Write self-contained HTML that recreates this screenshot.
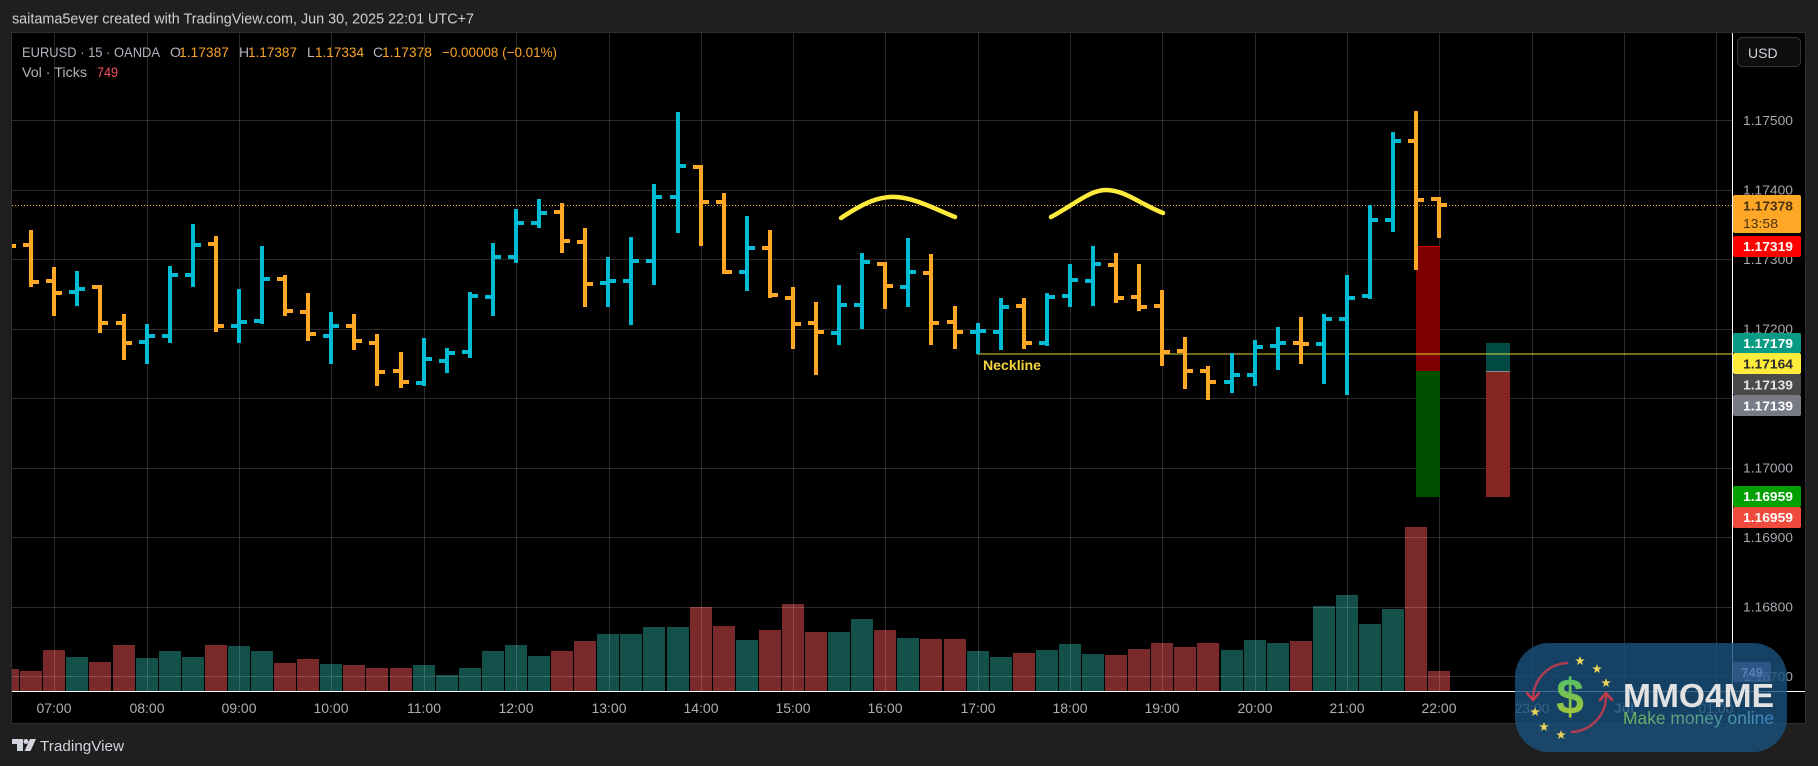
<!DOCTYPE html>
<html><head><meta charset="utf-8"><style>
html,body{margin:0;padding:0;background:#1f1f1f;width:1818px;height:766px;overflow:hidden}
svg{display:block}
text{font-family:"Liberation Sans","DejaVu Sans",sans-serif}
</style></head><body>
<svg width="1818" height="766" viewBox="0 0 1818 766" xmlns="http://www.w3.org/2000/svg">
<defs>
<clipPath id="cc"><rect x="12" y="33" width="1720" height="658"/></clipPath>
<linearGradient id="gd" x1="0" y1="0" x2="0" y2="1"><stop offset="0" stop-color="#3fbf6e"/><stop offset="1" stop-color="#b9c630"/></linearGradient>
<linearGradient id="gm" x1="0" y1="0" x2="1" y2="0"><stop offset="0" stop-color="#6fb35a"/><stop offset="1" stop-color="#3f86c8"/></linearGradient>
</defs>
<rect width="1818" height="766" fill="#1f1f1f"/>
<text x="12" y="23.5" font-size="15" fill="#cfcfcf" textLength="462" lengthAdjust="spacingAndGlyphs">saitama5ever created with TradingView.com, Jun 30, 2025 22:01 UTC+7</text>
<rect x="11.5" y="32.5" width="1794" height="691" fill="#000" stroke="#2e2e2e"/>
<g clip-path="url(#cc)">
<g fill="#7b2a2b">
<rect x="-3" y="669" width="22" height="22"/><rect x="20" y="671" width="22" height="20"/><rect x="43" y="650" width="22" height="41"/><rect x="89" y="662" width="22" height="29"/><rect x="113" y="645" width="22" height="46"/><rect x="205" y="645" width="22" height="46"/><rect x="274" y="663" width="22" height="28"/><rect x="297" y="659" width="22" height="32"/><rect x="343" y="665" width="22" height="26"/><rect x="366" y="668" width="22" height="23"/><rect x="390" y="668" width="22" height="23"/><rect x="551" y="651" width="22" height="40"/><rect x="574" y="641" width="22" height="50"/><rect x="690" y="607" width="22" height="84"/><rect x="713" y="626" width="22" height="65"/><rect x="759" y="630" width="22" height="61"/><rect x="782" y="604" width="22" height="87"/><rect x="805" y="632" width="22" height="59"/><rect x="874" y="630" width="22" height="61"/><rect x="920" y="639" width="22" height="52"/><rect x="944" y="639" width="22" height="52"/><rect x="1013" y="653" width="22" height="38"/><rect x="1105" y="655" width="22" height="36"/><rect x="1128" y="649" width="22" height="42"/><rect x="1151" y="643" width="22" height="48"/><rect x="1174" y="647" width="22" height="44"/><rect x="1197" y="643" width="22" height="48"/><rect x="1290" y="641" width="22" height="50"/><rect x="1405" y="527" width="22" height="164"/><rect x="1428" y="671" width="22" height="20"/>
</g>
<g fill="#14504a">
<rect x="66" y="657" width="22" height="34"/><rect x="136" y="658" width="22" height="33"/><rect x="159" y="651" width="22" height="40"/><rect x="182" y="657" width="22" height="34"/><rect x="228" y="646" width="22" height="45"/><rect x="251" y="651" width="22" height="40"/><rect x="320" y="664" width="22" height="27"/><rect x="413" y="665" width="22" height="26"/><rect x="436" y="675" width="22" height="16"/><rect x="459" y="668" width="22" height="23"/><rect x="482" y="651" width="22" height="40"/><rect x="505" y="645" width="22" height="46"/><rect x="528" y="656" width="22" height="35"/><rect x="597" y="634" width="22" height="57"/><rect x="620" y="634" width="22" height="57"/><rect x="643" y="627" width="22" height="64"/><rect x="667" y="627" width="22" height="64"/><rect x="736" y="640" width="22" height="51"/><rect x="828" y="632" width="22" height="59"/><rect x="851" y="619" width="22" height="72"/><rect x="897" y="638" width="22" height="53"/><rect x="967" y="651" width="22" height="40"/><rect x="990" y="657" width="22" height="34"/><rect x="1036" y="650" width="22" height="41"/><rect x="1059" y="644" width="22" height="47"/><rect x="1082" y="654" width="22" height="37"/><rect x="1221" y="650" width="22" height="41"/><rect x="1244" y="640" width="22" height="51"/><rect x="1267" y="643" width="22" height="48"/><rect x="1313" y="606" width="22" height="85"/><rect x="1336" y="595" width="22" height="96"/><rect x="1359" y="624" width="22" height="67"/><rect x="1382" y="609" width="22" height="82"/>
</g>
<g stroke="rgba(255,255,255,0.17)" stroke-width="1" fill="none">
<path d="M12 120.5H1732M12 190.5H1732M12 259.5H1732M12 329.5H1732M12 398.5H1732M12 468.5H1732M12 537.5H1732M12 607.5H1732M12 676.5H1732"/>
<path d="M54.5 33V691M147.5 33V691M239.5 33V691M331.5 33V691M424.5 33V691M516.5 33V691M609.5 33V691M701.5 33V691M793.5 33V691M885.5 33V691M978.5 33V691M1070.5 33V691M1162.5 33V691M1255.5 33V691M1347.5 33V691M1439.5 33V691M1532.5 33V691M1624.5 33V691M1716.5 33V691"/>
</g>
<!-- range boxes -->
<rect x="1416" y="246" width="24" height="125" fill="#7f0000"/>
<rect x="1416" y="246" width="24" height="1" fill="#d00000"/>
<rect x="1416" y="371" width="24" height="126" fill="#004e00"/>
<rect x="1486" y="343" width="24" height="28" fill="#004a43"/>
<rect x="1486" y="371" width="24" height="126" fill="#862621"/>
<rect x="1486" y="371" width="24" height="1" fill="#8a8a8a"/>
<!-- lines -->
<path d="M12 205.5H1732" stroke="#ffa726" stroke-width="1" stroke-dasharray="1 2"/>
<path d="M977 354H1732" stroke="rgba(255,235,59,0.45)" stroke-width="2"/>
<!-- price bars -->
<path fill="none" stroke="#ffa726" stroke-width="4" d="M8 240V252M0 241H8M8 246H16M31 230V287M23 245H31M31 282H39M54 267V316M46 281H54M54 293H62M100 285V333M92 287H100M100 323H108M124 314V360M116 323H124M124 343H132M216 236V332M208 244H216M216 326H224M285 275V316M277 279H285M285 311H293M308 293V341M300 312H308M308 334H316M354 314V350M346 326H354M354 341H362M377 334V386M369 343H377M377 372H385M401 352V388M393 371H401M401 382H409M562 203V253M554 212H562M562 241H570M585 228V307M577 242H585M585 284H593M701 165V246M693 167H701M701 202H709M724 193V274M716 202H724M724 272H732M770 230V298M762 248H770M770 295H778M793 287V349M785 298H793M793 324H801M816 302V375M808 323H816M816 332H824M885 262V309M877 264H885M885 286H893M931 254V345M923 273H931M931 323H939M955 306V349M947 322H955M955 332H963M1024 298V349M1016 306H1024M1024 343H1032M1116 253V303M1108 265H1116M1116 298H1124M1139 264V311M1131 297H1139M1139 307H1147M1162 290V366M1154 306H1162M1162 352H1170M1185 337V389M1177 351H1185M1185 371H1193M1208 366V400M1200 371H1208M1208 382H1216M1301 317V364M1293 343H1301M1301 344H1309M1416 111V270M1408 141H1416M1416 200H1424M1439 197V238M1431 199H1439M1439 205H1447"/>
<path fill="none" stroke="#00bcd4" stroke-width="4" d="M77 271V306M69 292H77M77 289H85M147 324V364M139 342H147M147 336H155M170 266V343M162 336H170M170 275H178M193 224V287M185 275H193M193 245H201M239 289V343M231 326H239M239 322H247M262 246V324M254 321H262M262 279H270M331 312V364M323 336H331M331 326H339M424 338V386M416 383H424M424 359H432M447 348V373M439 361H447M447 353H455M470 292V358M462 352H470M470 296H478M493 243V316M485 297H493M493 257H501M516 209V263M508 257H516M516 223H524M539 199V228M531 223H539M539 213H547M608 257V307M600 283H608M608 281H616M631 237V325M623 281H631M631 261H639M654 184V285M646 261H654M654 197H662M678 112V233M670 197H678M678 166H686M747 216V291M739 272H747M747 248H755M839 285V345M831 333H839M839 305H847M862 253V329M854 305H862M862 262H870M908 238V307M900 287H908M908 272H916M978 323V354M970 332H978M978 331H986M1001 298V350M993 332H1001M1001 307H1009M1047 293V346M1039 343H1047M1047 297H1055M1070 264V307M1062 296H1070M1070 280H1078M1093 246V306M1085 281H1093M1093 264H1101M1232 353V393M1224 382H1232M1232 375H1240M1255 340V386M1247 375H1255M1255 347H1263M1278 327V370M1270 346H1278M1278 343H1286M1324 314V384M1316 344H1324M1324 319H1332M1347 275V395M1339 319H1347M1347 298H1355M1370 205V299M1362 296H1370M1370 220H1378M1393 132V232M1385 220H1393M1393 141H1401"/>
<!-- arcs -->
<g fill="none" stroke="#ffeb3b" stroke-width="4.5" stroke-linecap="round">
<path d="M841 218C865 202 880 196 896 197C915 198 935 209 955 217"/>
<path d="M1051 217C1075 204 1090 190 1106 190C1125 190 1140 204 1163 213"/>
</g>
<text x="983" y="370" font-size="14" font-weight="bold" fill="#f3d53c" textLength="58" lengthAdjust="spacingAndGlyphs">Neckline</text>
</g>
<!-- legend -->
<g font-size="14">
<text x="22" y="57" fill="#b2b5be" textLength="138" lengthAdjust="spacingAndGlyphs">EURUSD · 15 · OANDA</text>
<text x="170" y="57" fill="#b2b5be">O</text>
<text x="179" y="57" fill="#f9a32a" textLength="50" lengthAdjust="spacingAndGlyphs">1.17387</text>
<text x="239" y="57" fill="#b2b5be">H</text>
<text x="248" y="57" fill="#f9a32a" textLength="49" lengthAdjust="spacingAndGlyphs">1.17387</text>
<text x="307" y="57" fill="#b2b5be">L</text>
<text x="315" y="57" fill="#f9a32a" textLength="49" lengthAdjust="spacingAndGlyphs">1.17334</text>
<text x="373" y="57" fill="#b2b5be">C</text>
<text x="382" y="57" fill="#f9a32a" textLength="50" lengthAdjust="spacingAndGlyphs">1.17378</text>
<text x="442" y="57" fill="#f9a32a" textLength="115" lengthAdjust="spacingAndGlyphs">−0.00008 (−0.01%)</text>
<text x="22" y="77" fill="#b2b5be" textLength="65" lengthAdjust="spacingAndGlyphs">Vol · Ticks</text>
<text x="97" y="77" fill="#f7525f" textLength="21" lengthAdjust="spacingAndGlyphs">749</text>
</g>
<!-- separators -->
<path d="M1732.5 33V691" stroke="#ffffff" stroke-width="1"/>
<path d="M12 691.5H1805" stroke="#ffffff" stroke-width="1"/>
<!-- USD button -->
<rect x="1737.5" y="37.5" width="63" height="29" rx="5" fill="#0e0e0e" stroke="#353535"/>
<text x="1748" y="58" font-size="14" fill="#d1d4dc">USD</text>
<!-- price axis labels -->
<g font-size="13" fill="#a6a9b1">
<text x="1743" y="125" textLength="50" lengthAdjust="spacingAndGlyphs">1.17500</text>
<text x="1743" y="194.5" textLength="50" lengthAdjust="spacingAndGlyphs">1.17400</text>
<text x="1743" y="264" textLength="50" lengthAdjust="spacingAndGlyphs">1.17300</text>
<text x="1743" y="333.5" textLength="50" lengthAdjust="spacingAndGlyphs">1.17200</text>
<text x="1743" y="403" textLength="50" lengthAdjust="spacingAndGlyphs">1.17100</text>
<text x="1743" y="472.5" textLength="50" lengthAdjust="spacingAndGlyphs">1.17000</text>
<text x="1743" y="542" textLength="50" lengthAdjust="spacingAndGlyphs">1.16900</text>
<text x="1743" y="611.5" textLength="50" lengthAdjust="spacingAndGlyphs">1.16800</text>
<text x="1743" y="681" textLength="50" lengthAdjust="spacingAndGlyphs">1.16700</text>
</g>
<g font-size="13" font-weight="bold">
<rect x="1733" y="195" width="68" height="38" rx="2" fill="#ffa726"/>
<text x="1743" y="210.5" fill="#4a3210" textLength="50" lengthAdjust="spacingAndGlyphs">1.17378</text>
<text x="1743" y="228" fill="#4a3210" font-weight="normal" textLength="35" lengthAdjust="spacingAndGlyphs">13:58</text>
<rect x="1733" y="236" width="68" height="21" rx="2" fill="#ff0000"/>
<text x="1743" y="251" fill="#ffffff" textLength="50" lengthAdjust="spacingAndGlyphs">1.17319</text>
<rect x="1733" y="333" width="68" height="20" rx="2" fill="#0a9b85"/>
<text x="1743" y="348" fill="#ffffff" textLength="50" lengthAdjust="spacingAndGlyphs">1.17179</text>
<rect x="1733" y="353" width="68" height="21" rx="2" fill="#ffeb3b"/>
<text x="1743" y="368.5" fill="#2a2a2a" textLength="50" lengthAdjust="spacingAndGlyphs">1.17164</text>
<rect x="1733" y="374" width="68" height="21" rx="2" fill="#4a4a4a"/>
<text x="1743" y="389.5" fill="#e6e6e6" textLength="50" lengthAdjust="spacingAndGlyphs">1.17139</text>
<rect x="1733" y="395" width="68" height="21" rx="2" fill="#787b86"/>
<text x="1743" y="410.5" fill="#ffffff" textLength="50" lengthAdjust="spacingAndGlyphs">1.17139</text>
<rect x="1733" y="486" width="68" height="21" rx="2" fill="#00a000"/>
<text x="1743" y="501" fill="#ffffff" textLength="50" lengthAdjust="spacingAndGlyphs">1.16959</text>
<rect x="1733" y="507" width="68" height="21" rx="2" fill="#ef4a3c"/>
<text x="1743" y="522" fill="#ffffff" textLength="50" lengthAdjust="spacingAndGlyphs">1.16959</text>
</g>
<!-- time axis -->
<g font-size="14" fill="#b0b0b0" text-anchor="middle">
<text x="54" y="713">07:00</text><text x="147" y="713">08:00</text><text x="239" y="713">09:00</text><text x="331" y="713">10:00</text><text x="424" y="713">11:00</text><text x="516" y="713">12:00</text><text x="609" y="713">13:00</text><text x="701" y="713">14:00</text><text x="793" y="713">15:00</text><text x="885" y="713">16:00</text><text x="978" y="713">17:00</text><text x="1070" y="713">18:00</text><text x="1162" y="713">19:00</text><text x="1255" y="713">20:00</text><text x="1347" y="713">21:00</text><text x="1439" y="713">22:00</text><text x="1532" y="713">23:00</text><text x="1624" y="713" font-weight="bold">Jul</text><text x="1716" y="713">01:00</text>
</g>
<!-- bottom logo -->
<g fill="#d1d4dc">
<path d="M12 739H23V751H17V744H12Z"/>
<circle cx="26" cy="741.5" r="2.5"/>
<path d="M30 739H36L30.5 751H24.5Z"/>
<text x="40" y="751" font-size="15" textLength="84" lengthAdjust="spacingAndGlyphs">TradingView</text>
</g>
<!-- watermark -->
<rect x="1515" y="643" width="272" height="109" rx="34" fill="rgba(26,80,122,0.82)"/>
<rect x="1733" y="662" width="38" height="20" rx="2" fill="rgba(80,110,170,0.45)"/>
<text x="1752" y="677" font-size="13" font-weight="bold" fill="#5a7db3" text-anchor="middle">749</text>
<g fill="none" stroke="#c8394d" stroke-width="2.5" stroke-linecap="round">
<path d="M1567 663A36 36 0 0 0 1533 699" stroke-opacity="0.85"/>
<path d="M1527 693L1533 700L1539 693"/>
<path d="M1572 732A36 36 0 0 0 1606 696" stroke-opacity="0.85"/>
<path d="M1600 700L1606 693L1612 700"/>
</g>
<g fill="#ecd258">
<path transform="translate(1580 661)" d="M0 -5L1.2 -1.6L4.8 -1.6L1.9 0.6L2.9 4L0 2L-2.9 4L-1.9 0.6L-4.8 -1.6L-1.2 -1.6Z"/>
<path transform="translate(1597 669)" d="M0 -5L1.2 -1.6L4.8 -1.6L1.9 0.6L2.9 4L0 2L-2.9 4L-1.9 0.6L-4.8 -1.6L-1.2 -1.6Z"/>
<path transform="translate(1606 683)" d="M0 -5L1.2 -1.6L4.8 -1.6L1.9 0.6L2.9 4L0 2L-2.9 4L-1.9 0.6L-4.8 -1.6L-1.2 -1.6Z"/>
<path transform="translate(1535 712)" d="M0 -5L1.2 -1.6L4.8 -1.6L1.9 0.6L2.9 4L0 2L-2.9 4L-1.9 0.6L-4.8 -1.6L-1.2 -1.6Z"/>
<path transform="translate(1544 727)" d="M0 -5L1.2 -1.6L4.8 -1.6L1.9 0.6L2.9 4L0 2L-2.9 4L-1.9 0.6L-4.8 -1.6L-1.2 -1.6Z"/>
<path transform="translate(1561 735)" d="M0 -5L1.2 -1.6L4.8 -1.6L1.9 0.6L2.9 4L0 2L-2.9 4L-1.9 0.6L-4.8 -1.6L-1.2 -1.6Z"/>
</g>
<text x="1570" y="714" font-size="50" font-weight="bold" fill="url(#gd)" text-anchor="middle">$</text>
<text x="1623" y="707" font-size="33" font-weight="bold" fill="#e2e2e2" textLength="151" lengthAdjust="spacingAndGlyphs">MMO4ME</text>
<text x="1623" y="724" font-size="17.5" fill="url(#gm)" textLength="151" lengthAdjust="spacingAndGlyphs">Make money online</text>
</svg>
</body></html>
